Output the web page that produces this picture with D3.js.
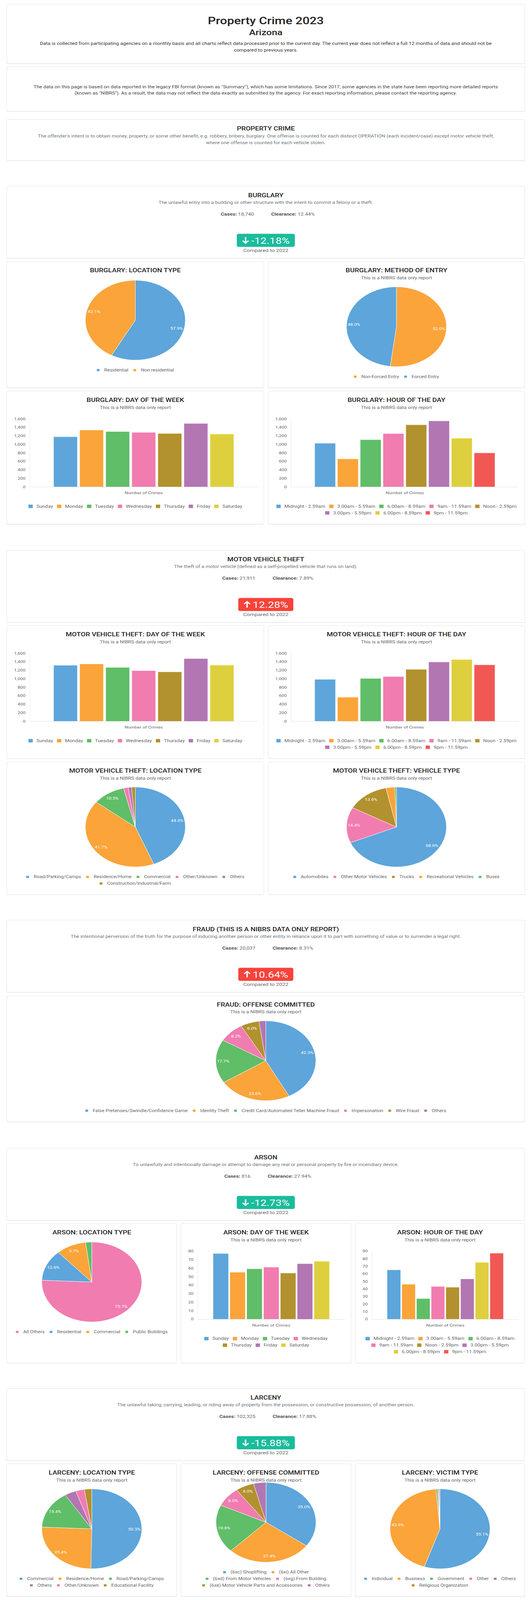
<!DOCTYPE html>
<html><head><meta charset="utf-8">
<script src="https://cdn.jsdelivr.net/npm/d3@7"></script>
<style>
html,body{margin:0;padding:0;background:#fff;overflow:hidden;}
svg{display:block;font-family:Roboto,"Noto Sans",sans-serif;}
</style></head><body>
<script>
// ---------------- DATA ----------------
const pageTitle = "Property Crime 2023";
const stateName = "Arizona";
const introLines = ["Data is collected from participating agencies on a monthly basis and all charts reflect data processed prior to the current day. The current year does not reflect a full 12 months of data and should not be",
  "compared to previous years."];
const noteLines = ["The data on this page is based on data reported in the legacy FBI format (known as \"Summary\"), which has some limitations. Since 2017, some agencies in the state have been reporting more detailed reports",
  "(known as \"NIBRS\"). As a result, the data may not reflect the data exactly as submitted by the agency. For exact reporting information, please contact the reporting agency."];
const propertyTitle = "PROPERTY CRIME";
const propertyLines = ["The offender's intent is to obtain money, property, or some other benefit, e.g. robbery, bribery, burglary. One offense is counted for each distinct OPERATION (each incident/case) except motor vehicle theft,",
  "where one offense is counted for each vehicle stolen."];
const nibrsNote = "This is a NIBRS data only report";
const comparedText = "Compared to 2022";
const axisTitle = "Number of Crimes";

const sectionTitles = ["BURGLARY","MOTOR VEHICLE THEFT","FRAUD (THIS IS A NIBRS DATA ONLY REPORT)","ARSON","LARCENY"];
const sectionDescriptions = [
  "The unlawful entry into a building or other structure with the intent to commit a felony or a theft.",
  "The theft of a motor vehicle (defined as a self-propelled vehicle that runs on land).",
  "The intentional perversion of the truth for the purpose of inducing another person or other entity in reliance upon it to part with something of value or to surrender a legal right.",
  "To unlawfully and intentionally damage or attempt to damage any real or personal property by fire or incendiary device.",
  "The unlawful taking, carrying, leading, or riding away of property from the possession, or constructive possession, of another person."];
const sectionCases = ["18,740","21,911","20,037","816","102,325"];
const sectionClearance = ["12.44%","7.89%","8.31%","27.94%","17.88%"];
const sectionChange = [-12.18, 12.28, 10.64, -12.73, -15.88];

const days = ["Sunday","Monday","Tuesday","Wednesday","Thursday","Friday","Saturday"];
const hours = ["Midnight - 2.59am","3.00am - 5.59am","6.00am - 8.59am","9am - 11.59am","Noon - 2.59pm","3.00pm - 5.59pm","6.00pm - 8.59pm","9pm - 11.59pm"];

const burglaryDayValues  = [1174,1332,1298,1276,1252,1486,1240];
const burglaryHourValues = [1023,655,1106,1249,1456,1547,1142,794];
const mvtDayValues       = [1311,1344,1262,1187,1157,1469,1318];
const mvtHourValues      = [980,561,1003,1046,1216,1390,1449,1321];
const arsonDayValues     = [77,55,59,61,54,65,68];
const arsonHourValues    = [65,46,27,43,42,53,75,87];

const burglaryLocationLabels = ["Residential","Non residential"];
const burglaryLocationValues = [57.9,42.1];
const burglaryEntryLabels = ["Non-Forced Entry","Forced Entry"];
const burglaryEntryValues = [52.0,48.0];
const mvtLocationLabels = ["Road/Parking/Camps","Residence/Home","Commercial","Other/Unknown","Others","Construction/Industrial/Farm"];
const mvtLocationValues = [44.0,41.7,10.5,1.5,1.1,1.2];
const mvtVehicleLabels = ["Automobiles","Other Motor Vehicles","Trucks","Recreational Vehicles","Buses"];
const mvtVehicleValues = [68.6,14.4,13.6,2.9,0.5];
const fraudOffenseLabels = ["False Pretenses/Swindle/Confidence Game","Identity Theft","Credit Card/Automated Teller Machine Fraud","Impersonation","Wire Fraud","Others"];
const fraudOffenseValues = [42.3,23.6,17.7,8.2,6.0,2.2];
const arsonLocationLabels = ["All Others","Residential","Commercial","Public Buildings"];
const arsonLocationValues = [75.7,12.6,9.7,2.0];
const larcenyLocationLabels = ["Commercial","Residence/Home","Road/Parking/Camps","Others","Other/Unknown","Educational Facility"];
const larcenyLocationValues = [50.3,25.4,15.4,3.7,2.8,2.4];
const larcenyOffenseLabels = ["(6xc) Shoplifting","(6xi) All Other","(6xd) From Motor Vehicles","(6xg) From Building","(6xe) Motor Vehicle Parts and Accessories","Others"];
const larcenyOffenseValues = [35.0,27.4,19.6,8.0,6.0,4.0];
const larcenyVictimLabels = ["Individual","Business","Government","Other","Others","Religious Organization"];
const larcenyVictimValues = [55.1,43.6,0.5,0.3,0.3,0.2];

// ---------------- STYLE ----------------
const C = {blue:"#5DA5DA",orange:"#FAA43A",green:"#60BD68",pink:"#F17CB0",brown:"#B2912F",purple:"#B276B2",yellow:"#DECF3F",red:"#F15854"};
const dayColors  = [C.blue,C.orange,C.green,C.pink,C.brown,C.purple,C.yellow];
const hourColors = [C.blue,C.orange,C.green,C.pink,C.brown,C.purple,C.yellow,C.red];
const FONT = "Roboto, 'Noto Sans', sans-serif";
const W = 1362, PAGE_H = 5127;
// the browser window is capped at its own height: the whole page is fitted into it vertically
const VIEW_H = Math.min(PAGE_H, window.innerHeight || PAGE_H);
const ky = VIEW_H / PAGE_H;

const svg = d3.select("body").append("svg").attr("width",W).attr("height",VIEW_H).attr("font-family",FONT);
const root = svg.append("g").attr("transform",`scale(1,${ky})`);
const gCards = root.append("g");
const gContent = root.append("g");
const measurer = svg.append("text").attr("x",-2000).attr("y",-2000).attr("font-family",FONT);
function measure(str,size,weight){ measurer.attr("font-size",size).attr("font-weight",weight||400).text(str); return measurer.node().getComputedTextLength(); }

function card(x,y,w,h){
  gCards.append("rect").attr("x",x).attr("y",y+1).attr("width",w).attr("height",h).attr("rx",2).attr("fill","#ebebeb");
  gCards.append("rect").attr("x",x+0.5).attr("y",y+0.5).attr("width",w-1).attr("height",h-1).attr("rx",2)
    .attr("fill","#fff").attr("stroke","#e2e2e2");
}
function addText(x,y,str,size,opt){
  opt = opt||{};
  return gContent.append("text").attr("x",x).attr("y",y).attr("text-anchor",opt.anchor||"middle")
    .attr("dominant-baseline","central").attr("font-size",size).attr("font-weight",opt.weight||400)
    .attr("fill",opt.fill||"#222").text(str);
}

const CX = 680.5;
const FULL = [{x:17,w:1327}];
const TWO = [{x:17,w:659},{x:686,w:658}];
const THREE = [{x:17,w:436},{x:463,w:436},{x:909,w:435}];
function legendMax(w){ return w >= 600 ? w - 36 : w - 42; }

// ---------------- HEADER CARDS ----------------
card(17,13,1327,191);
addText(CX,66,pageTitle,32,{weight:500});
addText(CX,105,stateName,25,{weight:500});
introLines.forEach((l,i)=>addText(CX,140+21*i,l,13,{fill:"#333"}));
card(17,213,1327,144);
noteLines.forEach((l,i)=>addText(CX,278+21*i,l,13,{fill:"#444"}));
card(17,382,1327,133);
addText(CX,412,propertyTitle,18,{weight:500});
propertyLines.forEach((l,i)=>addText(CX,436+21*i,l,13,{fill:"#6c757d"}));

// ---------------- SECTION CARD ----------------
function drawSection(top,i){
  card(17,top,1327,232);
  addText(CX,top+30,sectionTitles[i],18,{weight:500});
  addText(CX,top+53,sectionDescriptions[i],13,{fill:"#6c757d"});
  const t = gContent.append("text").attr("x",CX+5).attr("y",top+90).attr("text-anchor","middle")
    .attr("dominant-baseline","central").attr("font-size",13.5);
  t.append("tspan").attr("font-weight",700).attr("fill","#555").text("Cases:");
  t.append("tspan").attr("fill","#666").text(" "+sectionCases[i]);
  t.append("tspan").attr("dx",44).attr("font-weight",700).attr("fill","#555").text("Clearance:");
  t.append("tspan").attr("fill","#666").text(" "+sectionClearance[i]);
  const v = sectionChange[i];
  const label = (v<0?"-":"")+d3.format(".2f")(Math.abs(v))+"%";
  const tw = measure(label,28);
  const contentW = 19+5+tw;
  const bw = contentW+26, bx = CX-bw/2, by = top+153, bh = 42, cy = by+bh/2;
  gContent.append("rect").attr("x",bx).attr("y",by).attr("width",bw).attr("height",bh).attr("rx",5)
    .attr("fill", v<0 ? "#1ABC9C" : "#F8433B");
  const ax = bx+13+9.5;
  const dir = v<0 ? 1 : -1;
  gContent.append("path")
    .attr("d",`M${ax},${cy-10*dir} L${ax},${cy+9*dir} M${ax-7.5},${cy+1.5*dir} L${ax},${cy+9*dir} L${ax+7.5},${cy+1.5*dir}`)
    .attr("fill","none").attr("stroke","#fff").attr("stroke-width",3.6);
  addText(bx+13+24,cy+1,label,28,{anchor:"start",fill:"#fff"});
  addText(CX,top+206,comparedText,14,{fill:"#666"});
}

// ---------------- LEGEND ----------------
const pieLegend = {box:7,gap:12,space:13,font:12.6};
const barLegend = {box:11,gap:9.5,space:10,font:13};
function layoutLegend(labels,st,maxW){
  const widths = labels.map(t=>st.box+st.gap+measure(t,st.font));
  const rows=[]; let row=[], rowW=0;
  labels.forEach((t,i)=>{
    const w = widths[i], add = row.length ? st.space+w : w;
    if(row.length && rowW+add>maxW){ rows.push({idx:row,w:rowW}); row=[i]; rowW=w; }
    else { row.push(i); rowW+=add; }
  });
  rows.push({idx:row,w:rowW});
  rows.forEach(r=>r.widths=r.idx.map(i=>widths[i]));
  return rows;
}
function drawLegend(rows,labels,colors,cx,y0,st){
  rows.forEach((r,ri)=>{
    let x = cx - r.w/2; const y = y0+21*ri;
    r.idx.forEach((i,k)=>{
      gContent.append("rect").attr("x",x).attr("y",y-st.box/2).attr("width",st.box).attr("height",st.box).attr("fill",colors[i]);
      addText(x+st.box+st.gap,y,labels[i],st.font,{anchor:"start",fill:"#666"});
      x += r.widths[k]+st.space;
    });
  });
}

// ---------------- PIE ----------------
function drawPie(c,top,spec){
  const cx = c.x+c.w/2;
  addText(cx,top+29,spec.title,18,{weight:500});
  if(spec.sub) addText(cx,top+53,nibrsNote,13,{fill:"#666"});
  const rows = layoutLegend(spec.labels,pieLegend,legendMax(c.w));
  const shift = (spec.sub?0:-21) - 21*Math.max(0,rows.length-2);
  const cy = top+209+shift, r = 128;
  const data = spec.values.map((v,i)=>({label:spec.labels[i],v:v,color:spec.colors[i]}));
  const arcs = d3.pie().sort(null).value(d=>d.v)(data);
  const arc = d3.arc().innerRadius(0).outerRadius(r);
  const labelArc = d3.arc().innerRadius(r-19).outerRadius(r-19);
  const g = gContent.append("g").attr("transform",`translate(${cx},${cy})`);
  g.selectAll("path").data(arcs).join("path").attr("d",arc).attr("fill",d=>d.data.color)
    .attr("stroke","#fff").attr("stroke-width",1).attr("stroke-linejoin","round");
  g.selectAll("text").data(arcs.filter(d=>d.data.v>=5)).join("text")
    .attr("transform",d=>`translate(${labelArc.centroid(d)})`)
    .attr("text-anchor","middle").attr("dominant-baseline","central")
    .attr("font-size",12).attr("fill","#fff").text(d=>d3.format(".1f")(d.data.v)+"%");
  drawLegend(rows,spec.labels,spec.colors,cx,top+369+shift,pieLegend);
  return 369+shift+21*(rows.length-1)+36;
}

// ---------------- BAR ----------------
function drawBar(c,top,spec){
  const cx = c.x+c.w/2;
  addText(cx,top+29,spec.title,18,{weight:500});
  addText(cx,top+53,nibrsNote,13,{fill:"#666"});
  const y = d3.scaleLinear().domain([0,d3.max(spec.values)]).nice(8).range([top+307,top+89]);
  const fmt = d3.format(",");
  const ticks = y.ticks(8);
  const maxW = d3.max(ticks,t=>measure(fmt(t),12));
  const x0 = c.x+19+maxW+10.5, x1 = c.x+c.w-16, pw = x1-x0;
  const xb = d3.scaleBand().domain(spec.labels).range([x0+0.1*pw,x1-0.1*pw]).paddingInner(0.1).paddingOuter(0.05);
  const ax = gContent.append("g").attr("transform",`translate(${x0},0)`)
    .call(d3.axisLeft(y).ticks(8).tickSize(0).tickPadding(10.5).tickFormat(fmt));
  ax.select(".domain").remove();
  ax.attr("font-family",FONT).attr("font-size",12);
  ax.selectAll("text").attr("fill","#666");
  gContent.append("line").attr("x1",x0+0.5).attr("x2",x0+0.5).attr("y1",y.range()[1]).attr("y2",y(0)).attr("stroke","#e6e6e6");
  gContent.selectAll(null).data(spec.values).join("rect")
    .attr("x",(d,i)=>xb(spec.labels[i])).attr("width",xb.bandwidth())
    .attr("y",d=>y(d)).attr("height",d=>y(0)-y(d))
    .attr("fill",(d,i)=>spec.colors[i]);
  gContent.selectAll(null).data(spec.values).join("line")
    .attr("x1",(d,i)=>xb(spec.labels[i])).attr("x2",(d,i)=>xb(spec.labels[i])+xb.bandwidth())
    .attr("y1",d=>y(d)+0.5).attr("y2",d=>y(d)+0.5)
    .attr("stroke",(d,i)=>d3.color(spec.colors[i]).brighter(0.4)).attr("stroke-width",1);
  gContent.append("line").attr("x1",x0).attr("x2",x1).attr("y1",y(0)+0.5).attr("y2",y(0)+0.5).attr("stroke","#e0e0e0");
  addText((x0+x1)/2,top+327,axisTitle,12,{fill:"#666"});
  const rows = layoutLegend(spec.labels,barLegend,legendMax(c.w));
  drawLegend(rows,spec.labels,spec.colors,cx,top+369.5,barLegend);
  return 369.5+21*(rows.length-1)+36;
}

function drawRow(cols,top,specs){
  let hMax = 0;
  specs.forEach((s,i)=>{ const h = s.type==="pie" ? drawPie(cols[i],top,s) : drawBar(cols[i],top,s); hMax=Math.max(hMax,h); });
  cols.forEach(c=>card(c.x,top,c.w,Math.round(hMax)));
}

// ---------------- PAGE ----------------
drawSection(596,0);
drawRow(TWO,838,[
  {type:"pie",title:"BURGLARY: LOCATION TYPE",sub:false,labels:burglaryLocationLabels,values:burglaryLocationValues,colors:[C.blue,C.orange]},
  {type:"pie",title:"BURGLARY: METHOD OF ENTRY",sub:true,labels:burglaryEntryLabels,values:burglaryEntryValues,colors:[C.orange,C.blue]}]);
drawRow(TWO,1253,[
  {type:"bar",title:"BURGLARY: DAY OF THE WEEK",labels:days,values:burglaryDayValues,colors:dayColors},
  {type:"bar",title:"BURGLARY: HOUR OF THE DAY",labels:hours,values:burglaryHourValues,colors:hourColors}]);

drawSection(1763,1);
drawRow(TWO,2004,[
  {type:"bar",title:"MOTOR VEHICLE THEFT: DAY OF THE WEEK",labels:days,values:mvtDayValues,colors:dayColors},
  {type:"bar",title:"MOTOR VEHICLE THEFT: HOUR OF THE DAY",labels:hours,values:mvtHourValues,colors:hourColors}]);
drawRow(TWO,2441,[
  {type:"pie",title:"MOTOR VEHICLE THEFT: LOCATION TYPE",sub:true,labels:mvtLocationLabels,values:mvtLocationValues,colors:[C.blue,C.orange,C.green,C.pink,C.purple,C.brown]},
  {type:"pie",title:"MOTOR VEHICLE THEFT: VEHICLE TYPE",sub:true,labels:mvtVehicleLabels,values:mvtVehicleValues,colors:[C.blue,C.pink,C.brown,C.orange,C.green]}]);

drawSection(2948,2);
drawRow(FULL,3190,[
  {type:"pie",title:"FRAUD: OFFENSE COMMITTED",sub:true,labels:fraudOffenseLabels,values:fraudOffenseValues,colors:[C.blue,C.orange,C.green,C.pink,C.brown,C.purple]}]);

drawSection(3679,3);
drawRow(THREE,3920,[
  {type:"pie",title:"ARSON: LOCATION TYPE",sub:false,labels:arsonLocationLabels,values:arsonLocationValues,colors:[C.pink,C.blue,C.orange,C.green]},
  {type:"bar",title:"ARSON: DAY OF THE WEEK",labels:days,values:arsonDayValues,colors:dayColors},
  {type:"bar",title:"ARSON: HOUR OF THE DAY",labels:hours,values:arsonHourValues,colors:hourColors}]);

drawSection(4449,4);
drawRow(THREE,4690,[
  {type:"pie",title:"LARCENY: LOCATION TYPE",sub:true,labels:larcenyLocationLabels,values:larcenyLocationValues,colors:[C.blue,C.orange,C.green,C.purple,C.pink,C.brown]},
  {type:"pie",title:"LARCENY: OFFENSE COMMITTED",sub:true,labels:larcenyOffenseLabels,values:larcenyOffenseValues,colors:[C.blue,C.orange,C.green,C.pink,C.brown,C.purple]},
  {type:"pie",title:"LARCENY: VICTIM TYPE",sub:true,labels:larcenyVictimLabels,values:larcenyVictimValues,colors:[C.blue,C.orange,C.green,C.pink,C.purple,C.brown]}]);

measurer.remove();
</script>
</body></html>
